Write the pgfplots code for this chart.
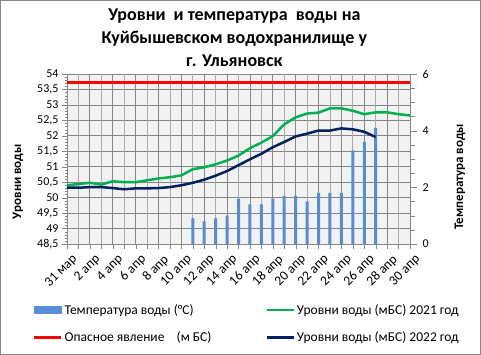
\documentclass[border=0pt]{standalone}
\usepackage{pgfplots}
\pgfplotsset{compat=1.18}
\usepackage{fontspec}
\setmainfont{Carlito}
\definecolor{tempblue}{RGB}{85,142,213}
\definecolor{lvlgreen}{RGB}{0,176,80}
\definecolor{lvlnavy}{RGB}{0,32,96}
\definecolor{gridgray}{RGB}{134,134,134}
\definecolor{gridlight}{RGB}{170,170,170}
\definecolor{bggray}{RGB}{242,242,242}
\begin{document}
\begin{tikzpicture}
\pgfplotsset{
  base/.style={
    at={(67bp,111bp)}, anchor=south west,
    width=343bp, height=170bp, scale only axis,
    xmin=0, xmax=30,
    /pgf/number format/assume math mode=true,
    /pgf/number format/use comma,
    tick label style={font=\fontsize{12bp}{13bp}\selectfont},
  }
}
% axis 1: grid, background, left axis, x labels
\begin{axis}[base,
  ymin=48.5, ymax=54,
  ytick={48.5,49,...,54},
  yticklabel style={/pgf/number format/fixed,/pgf/number format/precision=1},
  minor y tick num=4,
  axis x line*=bottom, axis y line*=left,
  axis line style={gridgray,-},
  axis background/.style={fill=bggray},
  grid=major, major grid style={gridgray,line width=0.8bp},
  xtick={0,2,...,30},
  xticklabels={31 мар,2 апр,4 апр,6 апр,8 апр,10 апр,12 апр,14 апр,16 апр,18 апр,20 апр,22 апр,24 апр,26 апр,28 апр,30 апр},
  xticklabel style={rotate=45, anchor=north east, inner sep=1bp, yshift=-5bp, xshift=1bp, font=\fontsize{13.5bp}{14bp}\selectfont},
  extra x ticks={1,3,...,29}, extra x tick labels={},
  extra x tick style={grid=major, major grid style={gridlight,line width=0.8bp}},
  tick align=outside, major tick length=5bp, minor tick length=2bp,
  tick style={gridgray},
  ylabel={Уровни воды},
  ylabel style={at={(axis description cs:-0.143,0.366)}, anchor=center, font=\bfseries\fontsize{13bp}{14bp}\selectfont},
  title={Уровни\ \ и температура\ \ воды на\\Куйбышевском водохранилище у\\г. Ульяновск},
  title style={at={(axis description cs:0.488,1.177)}, anchor=center, align=center, font=\bfseries\fontsize{18bp}{23bp}\selectfont},
]
\end{axis}
% axis 2: bars, right axis
\begin{axis}[base,
  ymin=0, ymax=6,
  axis x line=none, axis y line*=right,
  axis line style={gridgray,-},
  ytick={0,2,4,6}, minor y tick num=3,
  tick align=outside, major tick length=7bp, minor tick length=5bp,
  tick style={gridgray},
  yticklabel style={xshift=2bp},
  ylabel={Температура воды},
  ylabel style={at={(axis description cs:1.146,0.396)}, anchor=center, font=\bfseries\fontsize{13bp}{14bp}\selectfont},
]
\addplot[ybar, bar width=3bp, fill=tempblue, draw=none] coordinates {
(11,0.9) (12,0.8) (13,0.9) (14,1.0) (15,1.6) (16,1.4) (17,1.4) (18,1.6) (19,1.7) (20,1.7) (21,1.5) (22,1.8) (23,1.8) (24,1.8) (25,3.3) (26,3.6) (27,4.1)};
\end{axis}
% axis 3: lines and legend
\begin{axis}[base,
  ymin=48.5, ymax=54, hide axis,
  legend columns=2,
  legend style={at={(axis description cs:-0.108,-0.33)}, anchor=north west, draw=none, fill=none,
    font=\fontsize{13.5bp}{15bp}\selectfont, row sep=12bp,
    /tikz/every even column/.append style={column sep=52bp}},
  legend cell align=left,
]
\addlegendimage{legend image code/.code={\fill[tempblue] (0bp,-3.5bp) rectangle (27bp,3.5bp);}}
\addlegendentry{Температура воды (°С)}
\addlegendimage{legend image code/.code={\draw[lvlgreen,line width=2.5bp] (0bp,0bp) -- (27bp,0bp);}}
\addlegendentry{Уровни воды (мБС) 2021 год}
\addlegendimage{legend image code/.code={\draw[red,line width=2.5bp] (0bp,0bp) -- (27bp,0bp);}}
\addlegendentry{Опасное явление\ \ \ \ (м БС)}
\addlegendimage{legend image code/.code={\draw[lvlnavy,line width=2.5bp] (0bp,0bp) -- (27bp,0bp);}}
\addlegendentry{Уровни воды (мБС) 2022 год}
\addplot[red, line width=2.5bp, forget plot] coordinates {(0,53.73) (30,53.73)};
\addplot[lvlgreen, line width=2.5bp, line join=round, forget plot] coordinates {
(0,50.40) (1,50.44) (2,50.48) (3,50.42) (4,50.53) (5,50.50) (6,50.50) (7,50.56) (8,50.62) (9,50.66) (10,50.72)
(11,50.92) (12,50.98) (13,51.08) (14,51.20) (15,51.36) (16,51.60) (17,51.78) (18,51.99) (19,52.37) (20,52.60)
(21,52.72) (22,52.75) (23,52.89) (24,52.89) (25,52.81) (26,52.70) (27,52.76) (28,52.76) (29,52.70) (30,52.66)};
\addplot[lvlnavy, line width=2.5bp, line join=round, forget plot] coordinates {
(0,50.32) (1,50.32) (2,50.34) (3,50.34) (4,50.31) (5,50.27) (6,50.30) (7,50.30) (8,50.31) (9,50.34) (10,50.40)
(11,50.48) (12,50.58) (13,50.71) (14,50.86) (15,51.05) (16,51.24) (17,51.42) (18,51.63) (19,51.80) (20,51.98)
(21,52.07) (22,52.17) (23,52.17) (24,52.24) (25,52.21) (26,52.13) (27,51.96)};
\end{axis}
\draw[gridgray, line width=0.8bp] (0.5bp,0.5bp) rectangle (480.5bp,354.5bp);
\pgfresetboundingbox
\useasboundingbox (0,0) rectangle (481bp,355bp);
\end{tikzpicture}
\end{document}
